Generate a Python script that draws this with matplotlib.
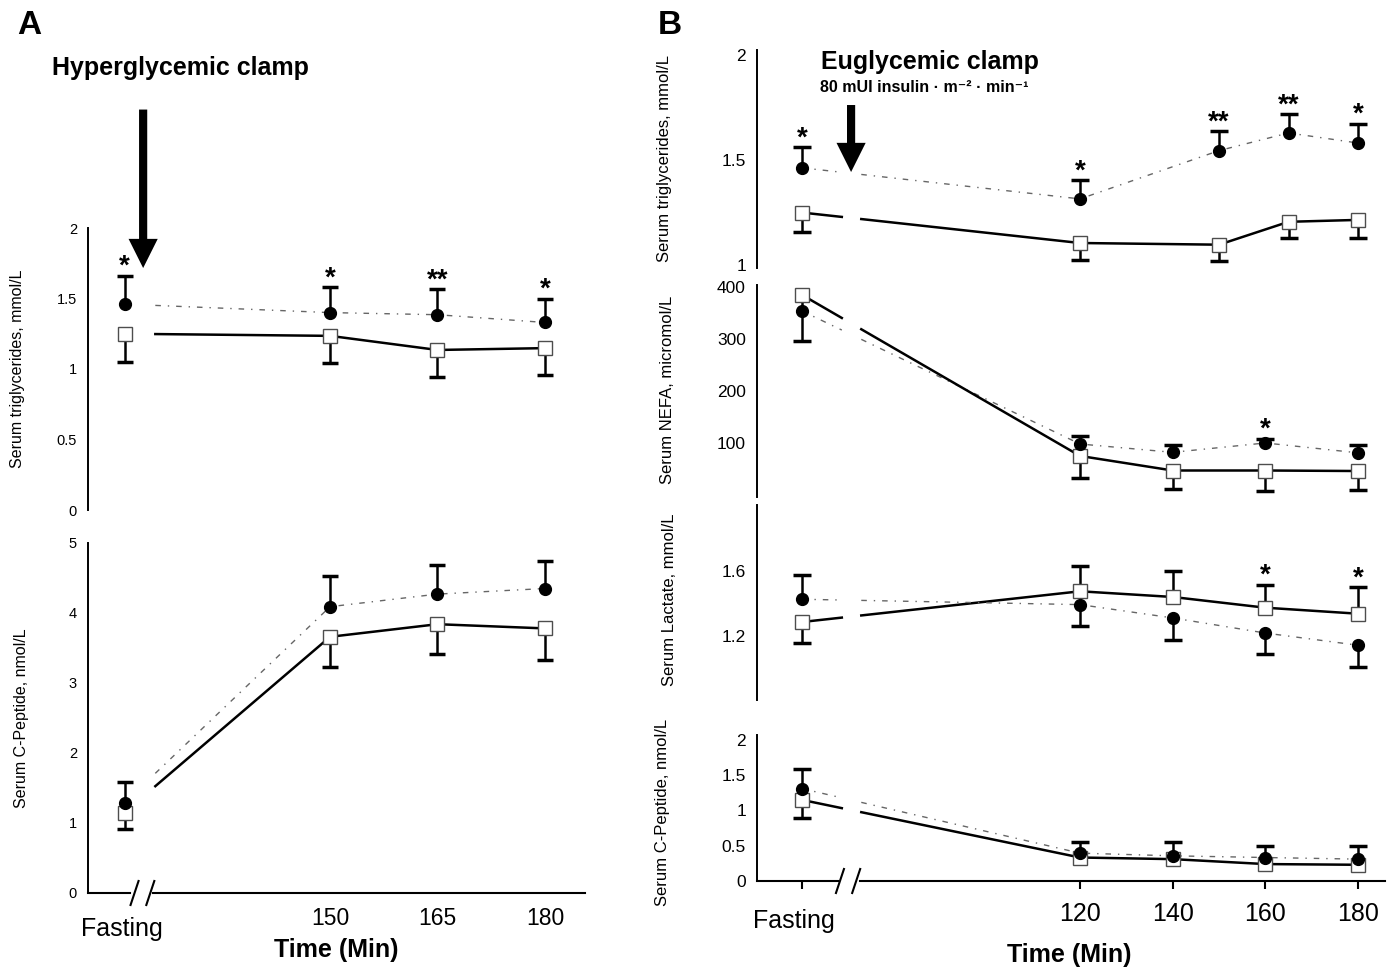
import numpy as np
import matplotlib.pyplot as plt
from matplotlib.transforms import ScaledTranslation

plt.rcParams['font.family'] = ['Liberation Sans', 'DejaVu Sans']

W, H = 1396, 969
nan = np.nan

# ---- panel A: hyperglycemic clamp ----
a_x = [121.3, 150, 165, 180]
a_xticks = [121.3, 150, 165, 180]
a_xlabels = ['Fasting', '150', '165', '180']
a_line_start = 125.6

a_tg_c = [1.46, 1.40, 1.385, 1.33]
a_tg_c_bar = [1.66, 1.58, 1.565, 1.50]
a_tg_s = [1.25, 1.235, 1.135, 1.148]
a_tg_s_bar = [1.05, 1.04, 0.94, 0.96]
a_tg_stars = ['*', '*', '**', '*']

a_cp_c = [1.29, 4.09, 4.27, 4.35]
a_cp_c_bar = [1.58, 4.53, 4.69, 4.75]
a_cp_s = [1.15, 3.66, 3.84, 3.78]
a_cp_s_bar = [0.91, 3.23, 3.41, 3.33]

# ---- panel B: euglycemic clamp ----
b_x_tg = [60, 120, 150, 165, 180]
b_x = [60, 120, 140, 160, 180]
b_xticks = [60, 120, 140, 160, 180]
b_xlabels = ['Fasting', '120', '140', '160', '180']
b_gap = (68.6, 72.8)

b_tg_c = [1.463, 1.315, 1.545, 1.629, 1.581]
b_tg_c_bar = [1.561, 1.403, 1.637, 1.718, 1.673]
b_tg_s = [1.25, 1.105, 1.097, 1.206, 1.215]
b_tg_s_bar = [1.156, 1.024, 1.021, 1.129, 1.129]
b_tg_stars = ['*', '*', '**', '**', '*']

b_nefa_c = [354, 98, 82, 100, 81]
b_nefa_c_bar = [nan, 113, 97, 108, 97]
b_nefa_s = [385, 75, 47, 47, 46]
b_nefa_s_bar = [297, 33, 12, 7, 10]
b_nefa_stars = ['', '', '', '*', '']

b_lac_c = [1.426, 1.393, 1.311, 1.218, 1.143]
b_lac_c_bar = [1.577, 1.262, 1.177, 1.091, 1.009]
b_lac_s = [1.286, 1.475, 1.440, 1.374, 1.337]
b_lac_s_bar = [1.157, 1.629, 1.600, 1.516, 1.500]
b_lac_stars = ['', '', '', '*', '*']

b_cp_c = [1.31, 0.395, 0.357, 0.333, 0.31]
b_cp_c_bar = [1.595, 0.56, 0.548, 0.49, 0.49]
b_cp_s = [1.15, 0.333, 0.31, 0.24, 0.23]
b_cp_s_bar = [0.895, nan, nan, nan, nan]

fig = plt.figure(figsize=(W / 100, H / 100), dpi=100)


def make_ax(l, t, r, b, xlim, ylim, yticks, tick_fs):
    ax = fig.add_axes([l / W, 1 - b / H, (r - l) / W, (b - t) / H])
    ax.set_xlim(xlim)
    ax.set_ylim(ylim)
    for s in ['top', 'right', 'bottom']:
        ax.spines[s].set_visible(False)
    ax.spines['left'].set_linewidth(1.4)
    ax.set_yticks(yticks, [f'{v:g}' for v in yticks])
    ax.tick_params(axis='y', length=0, pad=8, labelsize=tick_fs)
    ax.set_xticks([])
    ax.patch.set_visible(False)
    return ax


def add_series(ax, x, y, bar, filled, cap, start=None, gap=None, stars=None):
    x = np.asarray(x, float)
    y = np.asarray(y, float)
    bar = np.asarray(bar, float)
    if filled:
        lkw = dict(color='0.4', lw=1.0, ls=(0, (4, 5, 1, 5)))
    else:
        lkw = dict(color='k', lw=1.8)
    if start is not None:
        ax.plot(np.r_[start, x[1:]], np.r_[np.interp(start, x, y), y[1:]], zorder=2, **lkw)
    else:
        g0, g1 = gap
        ax.plot([x[0], g0], [y[0], np.interp(g0, x, y)], zorder=2, **lkw)
        ax.plot(np.r_[g1, x[1:]], np.r_[np.interp(g1, x, y), y[1:]], zorder=2, **lkw)
    for xi, yi, bi in zip(x, y, bar):
        if np.isnan(bi):
            continue
        ax.plot([xi, xi], [yi, bi], color='k', lw=1.8, zorder=3, solid_capstyle='butt')
        ax.plot([xi], [bi], marker='_', ms=cap, mew=2.5, color='k', zorder=3)
    if filled:
        ax.plot(x, y, 'o', ms=8.5, color='k', zorder=5)
    else:
        ax.plot(x, y, 's', ms=10, mfc='white', mec='0.3', mew=1.0, zorder=4)
    if stars:
        for xi, bi, s in zip(x, bar, stars):
            if s:
                ax.annotate(s, (xi, bi), xytext=(0, -3), textcoords='offset points',
                            ha='center', va='bottom', fontsize=20, fontweight='bold',
                            annotation_clip=False)


def break_axis(ax, g0, g1, s0, s1):
    x0, x1 = ax.get_xlim()
    tr = ax.get_xaxis_transform()
    pos = ax.get_position()
    dy = 12 / (pos.height * H)
    dx = 4 / (pos.width * W) * (x1 - x0)
    kw = dict(transform=tr, color='k', lw=1.5, clip_on=False, zorder=6)
    ax.plot([x0, g0], [0, 0], **kw)
    ax.plot([g1, x1], [0, 0], **kw)
    for s in (s0, s1):
        ax.plot([s - dx, s + dx], [-dy, dy], **kw)


def ftext(x, y, s, **kw):
    fig.text(x / W, 1 - y / H, s, ha='center', va='center', **kw)


arrow_style = 'simple,head_length=1.0,head_width=1.0,tail_width=0.28'

# ---- panel A axes ----
a_xlim = (116.2, 185.6)
axA1 = make_ax(88, 228, 585, 510, a_xlim, (0, 2), [0, 0.5, 1, 1.5, 2], 10.5)
add_series(axA1, a_x, a_tg_s, a_tg_s_bar, False, 12, start=a_line_start)
add_series(axA1, a_x, a_tg_c, a_tg_c_bar, True, 12, start=a_line_start, stars=a_tg_stars)

axA2 = make_ax(88, 543, 585, 893, a_xlim, (0, 5), [0, 1, 2, 3, 4, 5], 10.5)
add_series(axA2, a_x, a_cp_s, a_cp_s_bar, False, 12, start=a_line_start)
add_series(axA2, a_x, a_cp_c, a_cp_c_bar, True, 12, start=a_line_start)
break_axis(axA2, 122.1, 125.3, 122.7, 124.9)
axA2.set_xticks(a_xticks, a_xlabels)
axA2.tick_params(axis='x', length=0, pad=10, labelsize=16.5)
fl = axA2.get_xticklabels()[0]
fl.set_fontsize(18)
fl.set_transform(fl.get_transform() + ScaledTranslation(-0.03, -0.1, fig.dpi_scale_trans))
ftext(336, 950, 'Time (Min)', fontsize=18, fontweight='bold')

axA1.annotate('', xy=(123.9, 1.716), xytext=(123.9, 2.84),
              arrowprops=dict(arrowstyle=arrow_style, color='k', lw=0,
                              mutation_scale=21, shrinkA=0, shrinkB=0),
              annotation_clip=False)

# ---- panel B axes ----
b_xlim = (50.3, 185.8)
axB1 = make_ax(757, 50, 1385, 268, b_xlim, (0.986, 2.024), [1, 1.5, 2], 12.5)
add_series(axB1, b_x_tg, b_tg_s, b_tg_s_bar, False, 13, gap=b_gap)
add_series(axB1, b_x_tg, b_tg_c, b_tg_c_bar, True, 13, gap=b_gap, stars=b_tg_stars)

axB2 = make_ax(757, 285, 1385, 497, b_xlim, (-4, 404), [100, 200, 300, 400], 12.5)
add_series(axB2, b_x, b_nefa_c, b_nefa_c_bar, True, 13, gap=b_gap, stars=b_nefa_stars)
add_series(axB2, b_x, b_nefa_s, b_nefa_s_bar, False, 13, gap=b_gap)

axB3 = make_ax(757, 505, 1385, 700, b_xlim, (0.806, 2.006), [1.2, 1.6], 12.5)
add_series(axB3, b_x, b_lac_s, b_lac_s_bar, False, 13, gap=b_gap, stars=b_lac_stars)
add_series(axB3, b_x, b_lac_c, b_lac_c_bar, True, 13, gap=b_gap)

axB4 = make_ax(757, 735, 1385, 881, b_xlim, (0, 2.07), [0, 0.5, 1, 1.5, 2], 12.5)
add_series(axB4, b_x, b_cp_s, b_cp_s_bar, False, 13, gap=b_gap)
add_series(axB4, b_x, b_cp_c, b_cp_c_bar, True, 13, gap=b_gap)
break_axis(axB4, 67.8, 72.5, 68.2, 71.7)
axB4.set_xticks(b_xticks, b_xlabels)
axB4.tick_params(axis='x', length=6, width=1.5, pad=9, labelsize=18)
fl = axB4.get_xticklabels()[0]
fl.set_fontsize(18)
fl.set_transform(fl.get_transform() + ScaledTranslation(-0.08, -0.07, fig.dpi_scale_trans))
ftext(1069, 955, 'Time (Min)', fontsize=18, fontweight='bold')

axB1.annotate('', xy=(70.6, 1.443), xytext=(70.6, 1.762),
              arrowprops=dict(arrowstyle=arrow_style, color='k', lw=0,
                              mutation_scale=21, shrinkA=0, shrinkB=0),
              annotation_clip=False)

# ---- texts ----
ftext(29, 25, 'A', fontsize=24, fontweight='bold')
ftext(670, 25, 'B', fontsize=24, fontweight='bold')
ftext(180, 68, 'Hyperglycemic clamp', fontsize=18, fontweight='bold')
ftext(930, 62, 'Euglycemic clamp', fontsize=18, fontweight='bold')
ftext(924, 88, '80 mUI insulin · m\u207b\u00b2 · min\u207b\u00b9', fontsize=11.5, fontweight='bold')

ftext(18, 369, 'Serum triglycerides, mmol/L', fontsize=11.5, rotation=90)
ftext(22, 718, 'Serum C-Peptide, nmol/L', fontsize=11.5, rotation=90)
ftext(665, 158, 'Serum triglycerides, mmol/L', fontsize=12, rotation=90)
ftext(668, 390, 'Serum NEFA, micromol/L', fontsize=12, rotation=90)
ftext(670, 600, 'Serum Lactate, mmol/L', fontsize=12, rotation=90)
ftext(662, 812, 'Serum C-Peptide, nmol/L', fontsize=12, rotation=90)

fig.savefig('out.png', dpi=100)
